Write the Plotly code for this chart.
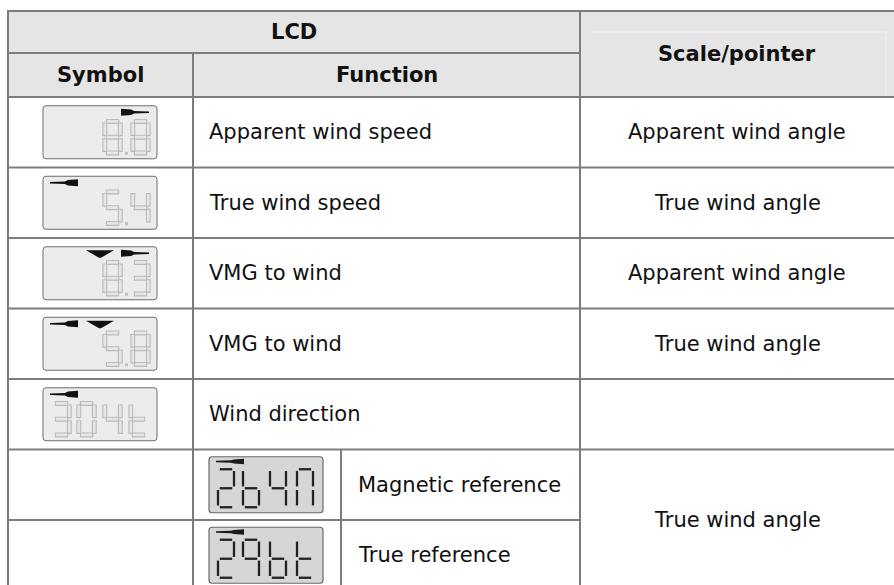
import plotly.graph_objects as go

# ---------------- data ----------------
header_top = "LCD"
header_sub = ["Symbol", "Function"]
header_right = "Scale/pointer"

functions = ["Apparent wind speed", "True wind speed", "VMG to wind", "VMG to wind", "Wind direction"]
scale_pointer = ["Apparent wind angle", "True wind angle", "Apparent wind angle", "True wind angle", ""]
lcd_readings = ["8.8", "5.4", "8.3", "5.8", "304t"]
lcd_needle = ["right", "left", "right", "left", "left"]
lcd_triangle = [False, False, True, True, False]

sub_functions = ["Magnetic reference", "True reference"]
sub_readings = ["264n", "296t"]
sub_scale_pointer = "True wind angle"

# ---------------- layout constants ----------------
W, H = 894, 585
XL, XSYM, XSUB, XSP, XR = 8, 193, 341, 580, 894
YT, YH1, YH2 = 11, 53, 97
ROW_H = 70.5
row_edges = [YH2 + i * ROW_H for i in range(8)]

GRID = "#7d7d7d"
HDR = "#e5e5e5"
FONT = "DejaVu Sans"
FS = 21

SEG = {'0': 'abcdef', '2': 'abged', '3': 'abgcd', '4': 'fgbc', '5': 'afgcd',
       '6': 'fedcg', '8': 'abcdefg', '9': 'abcfg', 't': 'fedg', 'n': 'abcef'}

shapes = []
annots = []


def line(x0, y0, x1, y1, color=GRID, width=2):
    shapes.append(dict(type="line", xref="x", yref="y", x0=x0, y0=y0, x1=x1, y1=y1,
                       line=dict(color=color, width=width), layer="above"))


def rect(x0, y0, x1, y1, fill, lc=None, lw=0):
    shapes.append(dict(type="rect", xref="x", yref="y", x0=x0, y0=y0, x1=x1, y1=y1,
                       fillcolor=fill, line=dict(color=lc or fill, width=lw), layer="above"))


def path(d, fill, lc=None, lw=0):
    shapes.append(dict(type="path", xref="x", yref="y", path=d, fillcolor=fill,
                       line=dict(color=lc or fill, width=lw), layer="above"))


def rrect(x0, y0, x1, y1, r):
    return (f"M{x0+r},{y0} L{x1-r},{y0} Q{x1},{y0} {x1},{y0+r} L{x1},{y1-r} "
            f"Q{x1},{y1} {x1-r},{y1} L{x0+r},{y1} Q{x0},{y1} {x0},{y1-r} "
            f"L{x0},{y0+r} Q{x0},{y0} {x0+r},{y0} Z")


def text(x, y, s, anchor="left", bold=False):
    annots.append(dict(x=x, y=y, xref="x", yref="y", text=f"<b>{s}</b>" if bold else s,
                       showarrow=False, xanchor=anchor, yanchor="middle",
                       font=dict(family=FONT, size=FS, color="#111111")))


def seg_ends(ch, x0, y0, w, h):
    ym = y0 + h / 2
    pts = {'a': (x0, y0, x0 + w, y0), 'b': (x0 + w, y0, x0 + w, ym),
           'c': (x0 + w, ym, x0 + w, y0 + h), 'd': (x0, y0 + h, x0 + w, y0 + h),
           'e': (x0, ym, x0, y0 + h), 'f': (x0, y0, x0, ym), 'g': (x0, ym, x0 + w, ym)}
    return [pts[s] for s in SEG.get(ch, '')]


def pale_digit(ch, x0, y0, w=15.5, h=31.5, t=3.8, gap=1.6):
    for (a, b, c, d) in seg_ends(ch, x0, y0, w, h):
        if b == d:  # horizontal
            rect(a + gap, b - t / 2, c - gap, b + t / 2, "#e6e6e6", "#bababa", 1.1)
        else:
            rect(a - t / 2, b + gap, a + t / 2, d - gap, "#e6e6e6", "#bababa", 1.1)


def dark_digit(ch, x0, y0, w=16, h=38, gap=1.8):
    for (a, b, c, d) in seg_ends(ch, x0, y0, w, h):
        if b == d:
            line(a + gap, b, c - gap, d, "#222222", 2.3)
        else:
            line(a, b + gap, c, d - gap, "#222222", 2.3)


def needle(x0, x1, ytop, thick, right_thick, color="#111111"):
    # solid block at one end, short taper, then a thin line to the tip
    L = x1 - x0
    yc = ytop + thick / 2
    if right_thick:
        b0 = x1 - L * 0.36
        t0 = b0 - 3
        d = (f"M{x0},{yc-0.7} L{t0},{yc-1.2} L{b0},{ytop+0.8} L{x1},{ytop} "
             f"L{x1},{ytop+thick} L{b0},{ytop+thick-0.8} L{t0},{yc+1.2} L{x0},{yc+0.7} Z")
    else:
        b0 = x0 + L * 0.36
        t0 = b0 + 3
        d = (f"M{x1},{yc-0.7} L{t0},{yc-1.2} L{b0},{ytop+0.8} L{x0},{ytop} "
             f"L{x0},{ytop+thick} L{b0},{ytop+thick-0.8} L{t0},{yc+1.2} L{x1},{yc+0.7} Z")
    path(d, color)


# ---------------- header ----------------
rect(XL, YT, XR, YH2, HDR)
line(592, 32, 886, 32, "#f3f3f3", 1)
line(886, 32, 886, YH2, "#f3f3f3", 1)

# ---------------- grid ----------------
line(XL - 1, YT, XR, YT)
line(XL, YH1, XSP, YH1)
for y in row_edges[:6]:
    line(XL, y, XR, y)
line(XL, row_edges[6], XSP, row_edges[6])
line(XL, YT, XL, H + 5)
line(XSP, YT, XSP, H + 5)
line(XSYM, YH1, XSYM, H + 5)
line(XSUB, row_edges[5], XSUB, H + 5)

# ---------------- header text ----------------
text((XL + XSP) / 2, (YT + YH1) / 2, header_top, "center", True)
text((XL + XSYM) / 2, (YH1 + YH2) / 2, header_sub[0], "center", True)
text((XSYM + XSP) / 2, (YH1 + YH2) / 2, header_sub[1], "center", True)
text((XSP + XR) / 2, (YT + YH2) / 2, header_right, "center", True)

# ---------------- main rows ----------------
for i, (fn, sp, rd, nd, tri) in enumerate(zip(functions, scale_pointer, lcd_readings,
                                              lcd_needle, lcd_triangle)):
    y0, y1 = row_edges[i], row_edges[i + 1]
    yc = (y0 + y1) / 2
    text(XSYM + 14, yc, fn, "left")
    if sp:
        text((XSP + XR) / 2, yc, sp, "center")
    # LCD icon
    bx0, bx1 = 43, 157
    bt, bb = yc - 26.5, yc + 26.5
    path(rrect(bx0, bt, bx1, bb, 3), "#ececec", "#6e6e6e", 1)
    dy = bt + 15.7
    if "." in rd:
        d1, d2 = rd.split(".")
        pale_digit(d1, 104.8, dy)
        pale_digit(d2, 132.8, dy)
        rect(125, bt + 46, 128, bt + 49, "#c0c0c0")
    else:
        for k, ch in enumerate(rd):
            pale_digit(ch, [53.8, 78.8, 104.8, 130.8][k], dy)
    if nd == "right":
        needle(121, 149, bt + 3, 7, False)
    else:
        needle(50, 78, bt + 3, 7, True)
    if tri:
        path(f"M86,{bt+3.5} L114,{bt+3.5} L101,{bt+11} L99,{bt+11} Z", "#111111")

# ---------------- sub rows (wind direction references) ----------------
for j, (fn, rd) in enumerate(zip(sub_functions, sub_readings)):
    y0, y1 = row_edges[5 + j], row_edges[6 + j]
    yc = (y0 + y1) / 2
    text(XSUB + 15, yc, fn, "left")
    bx0, bx1 = 209, 323
    bt, bb = yc - 28, yc + 28
    path(rrect(bx0, bt, bx1, bb, 3), "#d6d6d6", "#6a6a6a", 1.2)
    for k, ch in enumerate(rd):
        dark_digit(ch, [218, 243, 270, 297][k], bt + 12.5)
    needle(216, 244, bt + 2, 5.5, True, "#1a1a1a")

text((XSP + XR) / 2, row_edges[5] + ROW_H, sub_scale_pointer, "center")

# ---------------- figure ----------------
fig = go.Figure()
fig.add_trace(go.Scatter(x=[0, W], y=[0, H], mode="markers",
                         marker=dict(opacity=0), hoverinfo="skip", showlegend=False))
fig.update_layout(
    width=W, height=H, margin=dict(l=0, r=0, t=0, b=0),
    paper_bgcolor="white", plot_bgcolor="white",
    xaxis=dict(range=[0, W], visible=False, fixedrange=True),
    yaxis=dict(range=[H, 0], visible=False, fixedrange=True),
    shapes=shapes, annotations=annots, showlegend=False,
)
fig.write_html("out.html", config={"displayModeBar": False})

# remove the default page margin so the figure sits at the window origin
with open("out.html", "r", encoding="utf-8") as f:
    html = f.read()
html = html.replace("<head>", "<head><style>html,body{margin:0;padding:0;overflow:hidden;}</style>", 1)
with open("out.html", "w", encoding="utf-8") as f:
    f.write(html)
